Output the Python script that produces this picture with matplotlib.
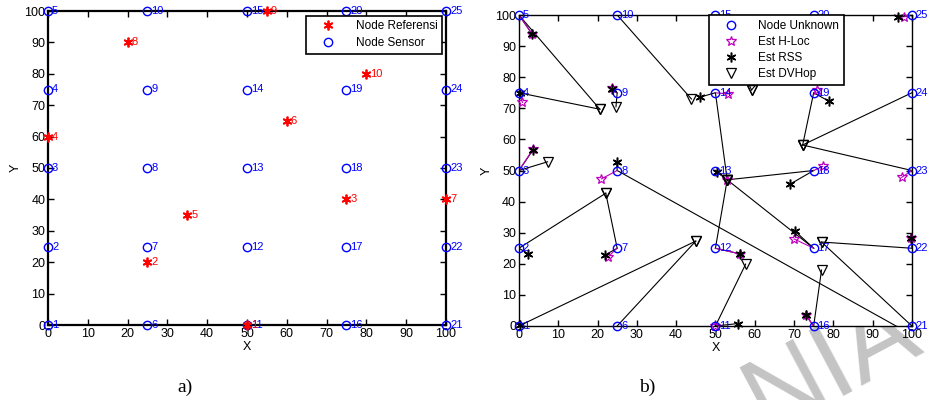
import matplotlib
matplotlib.use('Agg')
import matplotlib.pyplot as plt
import numpy as np

plt.rcParams['font.family'] = ['Liberation Sans', 'DejaVu Sans']
nan = np.nan

# grid of 25 sensor / unknown nodes
node_x = [0, 0, 0, 0, 0, 25, 25, 25, 25, 25, 50, 50, 50, 50, 50,
          75, 75, 75, 75, 75, 100, 100, 100, 100, 100]
node_y = [0, 25, 50, 75, 100, 0, 25, 50, 75, 100, 0, 25, 50, 75, 100,
          0, 25, 50, 75, 100, 0, 25, 50, 75, 100]

# reference nodes (panel a)
ref_x = [50, 25, 75, 0, 35, 60, 100, 20, 55, 80]
ref_y = [0, 20, 40, 60, 35, 65, 40, 90, 100, 80]

# estimates (panel b), one per unknown node, nan where not visible
hloc_x = [nan, nan, 3.6, 0.9, 3.4, nan, 22.7, 21.0, 23.7, nan, 50, 56.2, 53.0, 53.3, nan,
          73.0, 70.0, 77.3, 75.8, nan, nan, 99.7, 97.4, nan, 98.0]
hloc_y = [nan, nan, 56.9, 71.9, 93.8, nan, 22.3, 47.3, 76.4, nan, 0, 23.2, 46.9, 74.6, nan,
          3.5, 28.0, 51.3, 75.8, nan, nan, 28.3, 47.8, nan, 99.4]
rss_x = [0.3, 2.4, 3.6, 0.3, 3.4, nan, 21.9, 24.9, 23.7, nan, 55.8, 56.2, 50.5, 46.1, nan,
         73.0, 70.2, 69.0, 79.0, nan, nan, 99.7, nan, nan, 96.5]
rss_y = [0.3, 23.2, 56.6, 74.8, 93.8, nan, 22.8, 52.6, 76.2, nan, 0.8, 23.2, 49.5, 73.6, nan,
         3.5, 30.6, 45.6, 72.2, nan, nan, 28.3, nan, nan, 99.2]
dv_x = [45.0, 22.1, 7.3, 20.6, 20.6, 45.0, 22.1, 98.8, 24.7, 43.9, 57.7, 53.0, 53.0, 53.0, 59.2,
        77.0, 53.0, 53.0, 72.2, 59.2, 77.0, 77.0, 72.2, 72.2, nan]
dv_y = [27.3, 42.7, 52.8, 69.7, 69.7, 27.3, 42.7, -2.0, 70.5, 73.0, 19.9, 47.0, 47.0, 47.0, 75.9,
        18.0, 47.0, 47.0, 58.2, 75.9, 27.0, 27.0, 58.2, 58.2, nan]

ticks = np.arange(0, 101, 10)


def style_axes(ax, lw):
    ax.set_xlim(0, 100)
    ax.set_ylim(0, 100)
    ax.set_xticks(ticks)
    ax.set_yticks(ticks)
    ax.tick_params(direction='in', top=True, right=True, length=4, width=1,
                   labelsize=9, pad=2)
    for s in ax.spines.values():
        s.set_linewidth(lw)
    ax.set_xlabel('X', fontsize=9, labelpad=1)
    ax.set_ylabel('Y', fontsize=9, labelpad=2)


asterisk = (6, 2, 0)

fig = plt.figure(figsize=(9.35, 4.0), dpi=100)

# watermark fragment, behind the axes
fig.text(1.0, -0.13, 'NIA', fontsize=78, color='#c4c4c4', rotation=28,
         ha='right', va='bottom', zorder=-5)

# ---- panel a
ax1 = fig.add_axes([0.0513, 0.1875, 0.4257, 0.785])
ax1.plot(ref_x, ref_y, ls='none', marker=asterisk, ms=7, mew=1.3, color='r',
         label='Node Referensi', clip_on=False, zorder=4)
ax1.plot(node_x, node_y, ls='none', marker='o', ms=6, mfc='none', mec='b', mew=1,
         label='Node Sensor', clip_on=False, zorder=3)
for i in range(len(ref_x)):
    ax1.text(ref_x[i] + 1, ref_y[i], str(i + 1), color='r', fontsize=8,
             va='center', ha='left', clip_on=False, zorder=4)
for i in range(len(node_x)):
    ax1.text(node_x[i] + 1, node_y[i], str(i + 1), color='b', fontsize=8,
             va='center', ha='left', clip_on=False, zorder=3)
style_axes(ax1, 1.6)
leg1 = ax1.legend(loc='upper right', bbox_to_anchor=(0.99, 0.985), fontsize=8.5,
                  fancybox=False, edgecolor='k', framealpha=1, borderaxespad=0,
                  handlelength=3, labelspacing=0.4)
leg1.get_frame().set_linewidth(1.2)
leg1.set_zorder(10)

# ---- panel b
ax2 = fig.add_axes([0.555, 0.185, 0.4203, 0.7775])
for i in range(len(node_x)):
    ax2.plot([node_x[i], dv_x[i]], [node_y[i], dv_y[i]], color='k', lw=0.8, zorder=2)
    ax2.plot([node_x[i], rss_x[i]], [node_y[i], rss_y[i]], color='k', lw=0.8, zorder=2)
    ax2.plot([node_x[i], hloc_x[i]], [node_y[i], hloc_y[i]], color='m', lw=0.8, zorder=2)
ax2.plot(node_x, node_y, ls='none', marker='o', ms=6, mfc='none', mec='b', mew=1,
         label='Node Unknown', clip_on=False, zorder=5)
ax2.plot(hloc_x, hloc_y, ls='none', marker='*', ms=7, mfc='none', mec='m', mew=0.9,
         label='Est H-Loc', clip_on=False, zorder=4)
ax2.plot(rss_x, rss_y, ls='none', marker=asterisk, ms=7, mew=1.1, color='k',
         label='Est RSS', clip_on=False, zorder=4)
ax2.plot(dv_x, dv_y, ls='none', marker='v', ms=7, mfc='none', mec='k', mew=0.9,
         label='Est DVHop', zorder=4)
for i in range(len(node_x)):
    ax2.text(node_x[i] + 1, node_y[i], str(i + 1), color='b', fontsize=8,
             va='center', ha='left', clip_on=False, zorder=5)
style_axes(ax2, 1.0)
leg2 = ax2.legend(loc='upper left', bbox_to_anchor=(0.483, 1.0), fontsize=8.5,
                  fancybox=False, edgecolor='k', framealpha=1, borderaxespad=0,
                  handlelength=3, labelspacing=0.35)
leg2.get_frame().set_linewidth(1.2)
leg2.set_zorder(10)

fig.text(0.198, 0.032, 'a)', family='Liberation Serif', fontsize=14, ha='center', va='center')
fig.text(0.692, 0.032, 'b)', family='Liberation Serif', fontsize=14, ha='center', va='center')

fig.savefig('out.png', dpi=100)
